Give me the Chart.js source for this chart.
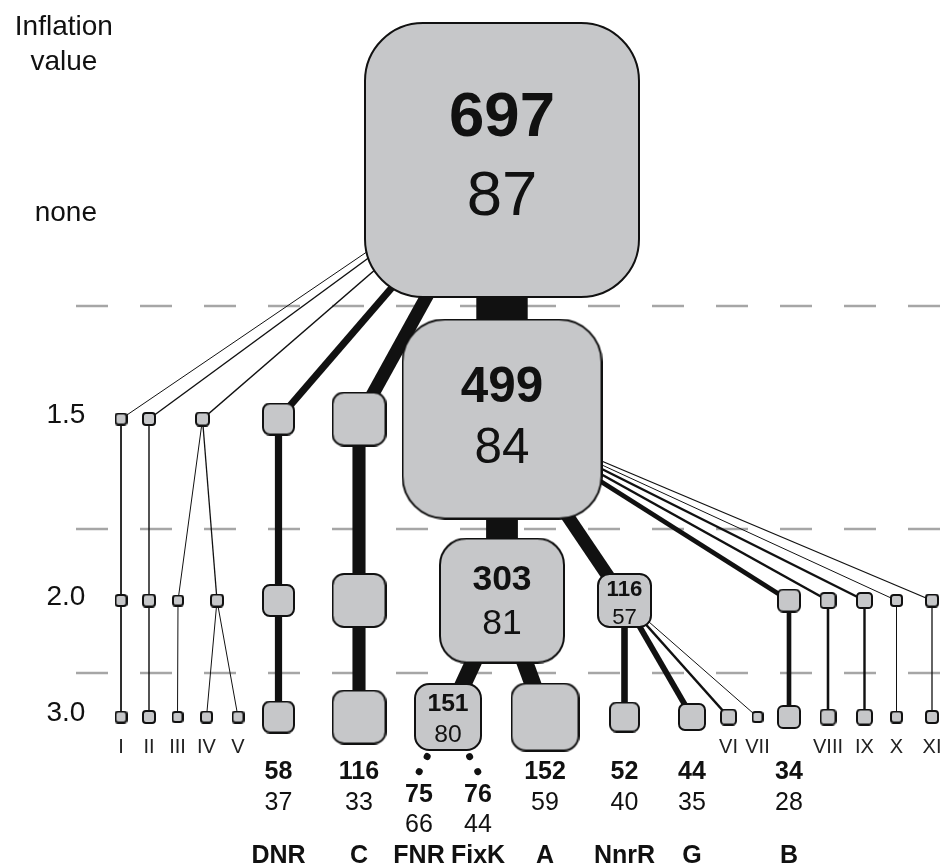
<!DOCTYPE html>
<html>
<head>
<meta charset="utf-8">
<script src="https://cdn.jsdelivr.net/npm/chart.js@4.4.1/dist/chart.umd.min.js"></script>
<style>
  html, body { margin: 0; padding: 0; background: #fff; }
  #wrap { position: relative; width: 947px; height: 866px; }
</style>
</head>
<body>
<div id="wrap"><canvas id="tree"></canvas></div>
<script>
// Inflation levels of the clustering (row labels)
const levels = ['none', '1.5', '2.0', '3.0'];

// One entry per cluster and inflation level; level 4 = sub-families under a 3.0 cluster
const clusterKeys = [
  'all',
  'I', 'II', 'III-V', 'DNR', 'C', 'main',
  'I', 'II', 'III', 'IV-V', 'DNR', 'C', 'main-a', 'main-b', 'B', 'VIII', 'IX', 'X', 'XI',
  'I', 'II', 'III', 'IV', 'V', 'DNR', 'C', 'FNR-FixK', 'A', 'NnrR', 'G', 'VI', 'VII', 'B', 'VIII', 'IX', 'X', 'XI',
  'FNR', 'FixK'
];
const clusterLevel = [
  0,
  1, 1, 1, 1, 1, 1,
  2, 2, 2, 2, 2, 2, 2, 2, 2, 2, 2, 2, 2,
  3, 3, 3, 3, 3, 3, 3, 3, 3, 3, 3, 3, 3, 3, 3, 3, 3, 3,
  4, 4
];
const clusterParent = [
  -1,
  0, 0, 0, 0, 0, 0,
  1, 2, 3, 3, 4, 5, 6, 6, 6, 6, 6, 6, 6,
  7, 8, 9, 10, 10, 11, 12, 13, 13, 14, 14, 14, 14, 15, 16, 17, 18, 19,
  27, 27
];
// number of sequences in each cluster
const seqCounts = [
  697,
  5, 9, 10, 58, 116, 499,
  5, 9, 2, 8, 58, 116, 303, 116, 34, 17, 16, 5, 8,
  5, 9, 2, 4, 4, 58, 116, 151, 152, 52, 44, 17, 3, 34, 17, 16, 5, 8,
  75, 76
];
// mean identity (%) where shown
const identities = [
  87,
  null, null, null, null, null, 84,
  null, null, null, null, null, null, 81, 57, null, null, null, null, null,
  null, null, null, null, null, 37, 33, 80, 59, 40, 35, null, null, 28, null, null, null, null,
  66, 44
];
const familyNames = [
  '',
  '', '', '', '', '', '',
  '', '', '', '', '', '', '', '', '', '', '', '', '',
  '', '', '', '', '', 'DNR', 'C', '', 'A', 'NnrR', 'G', '', '', 'B', '', '', '', '',
  'FNR', 'FixK'
];
const groupNumerals = [
  '',
  '', '', '', '', '', '',
  '', '', '', '', '', '', '', '', '', '', '', '', '',
  'I', 'II', 'III', 'IV', 'V', '', '', '', '', '', '', 'VI', 'VII', '', 'VIII', 'IX', 'X', 'XI',
  '', ''
];

// ---- layout (grid of 10px cells; x measured from the plot's left edge) ----
const columnX = [
  39.0,
  0.9, 3.7, 9.05, 16.65, 24.7, 39.0,
  0.9, 3.7, 6.6, 10.5, 16.65, 24.7, 39.0, 51.25, 67.7, 71.6, 75.25, 78.45, 82.0,
  0.9, 3.7, 6.55, 9.45, 12.6, 16.65, 24.7, 33.6, 43.3, 51.25, 58.0, 61.65, 64.55, 67.7, 71.6, 75.25, 78.45, 82.0,
  30.7, 36.6
];
const nodeRow = [16.0, 41.9, 60.05, 71.7, 77.2];
const tickRow = [21.3, 41.5, 59.7, 71.3];
const separatorRow = [30.6, 52.9, 67.3];
const separatorSpan = [-3.6, 83.5];
const rowNumeral = 75.3, rowCount = 77.9, rowIdentity = 81.0;
const rowSubCount = 80.2, rowSubIdentity = 83.2, rowName = 86.3;
const titleRows = [3.5, 7.0];

const FONT = '"Liberation Sans", Arial, Helvetica, sans-serif';
const BOX_FILL = '#c6c7c9';
const INK = '#111';
const DOT_GAP = 17;
const TICK_PAD = 15;

// box edge length (px) grows with the number of sequences
function boxSize(count) { return 11 + 0.38 * count; }
// connector thickness grows with the number of sequences passed down
function edgeWidth(count) { return Math.max(1, 0.1 * count + 1.5 * (1 - Math.exp(-count / 20))); }

function roundedBox(count) {
  const n = Math.round(boxSize(count));
  const cv = document.createElement('canvas');
  cv.width = n; cv.height = n;
  const g = cv.getContext('2d');
  const bw = 2, h = bw / 2, w = n - bw, r = Math.max(2, 0.21 * n);
  g.beginPath();
  g.moveTo(h + r, h);
  g.arcTo(h + w, h, h + w, h + w, r);
  g.arcTo(h + w, h + w, h, h + w, r);
  g.arcTo(h, h + w, h, h, r);
  g.arcTo(h, h, h + w, h, r);
  g.closePath();
  g.fillStyle = BOX_FILL;
  g.fill();
  g.lineWidth = bw;
  g.strokeStyle = INK;
  g.stroke();
  return cv;
}

const boxNodes = clusterKeys.map((_, i) => i).filter(i => clusterLevel[i] <= 3);
const boxImages = boxNodes.map(i => roundedBox(seqCounts[i]));
const hasChildren = clusterKeys.map((_, i) => clusterParent.includes(i));

const pos = i => ({ x: columnX[i], y: nodeRow[clusterLevel[i]] });

const datasets = [];

// clusters
datasets.push({
  type: 'scatter',
  data: boxNodes.map(pos),
  pointStyle: c => boxImages[c.dataIndex],
  pointRadius: c => boxSize(seqCounts[boxNodes[c.dataIndex]]) / 2,
  order: 1,
  clip: false
});

// parent -> child connectors
clusterKeys.forEach((_, i) => {
  const p = clusterParent[i];
  if (p < 0) return;
  const a = pos(p), b = pos(i);
  if (clusterLevel[i] === 4) {
    datasets.push({
      type: 'line',
      data: [a, b],
      borderColor: INK,
      borderWidth: 7,
      borderCapStyle: 'round',
      borderDash: [0.01, DOT_GAP - 0.01],
      borderDashOffset: c => {
        const xs = c.chart.scales.x, ys = c.chart.scales.y;
        const L = Math.hypot(xs.getPixelForValue(b.x) - xs.getPixelForValue(a.x),
                             ys.getPixelForValue(b.y) - ys.getPixelForValue(a.y));
        return DOT_GAP - ((L - 0.5) % DOT_GAP);
      },
      pointRadius: 0,
      fill: false,
      tension: 0,
      order: 2,
      clip: false
    });
  } else {
    datasets.push({
      type: 'line',
      data: [a, b],
      borderColor: INK,
      borderWidth: edgeWidth(seqCounts[i]),
      borderCapStyle: 'butt',
      pointRadius: 0,
      fill: false,
      tension: 0,
      order: 2,
      clip: false
    });
  }
});

// dashed level separators
separatorRow.forEach(r => {
  datasets.push({
    type: 'line',
    data: [{ x: separatorSpan[0], y: r }, { x: separatorSpan[1], y: r }],
    borderColor: '#a6a6a6',
    borderWidth: 2.5,
    borderDash: [32, 32],
    pointRadius: 0,
    fill: false,
    order: 3,
    clip: false
  });
});

const labelPlugin = {
  id: 'clusterLabels',
  afterDatasetsDraw(chart) {
    const { ctx, scales: { x, y } } = chart;
    ctx.save();
    ctx.fillStyle = INK;
    ctx.textAlign = 'center';
    ctx.textBaseline = 'alphabetic';

    // axis caption above the level labels, centred on them
    ctx.font = '28px ' + FONT;
    const capX = y.right - TICK_PAD - ctx.measureText(levels[0]).width / 2 - 2;
    ctx.fillText('Inflation', capX, y.getPixelForValue(titleRows[0]));
    ctx.fillText('value', capX, y.getPixelForValue(titleRows[1]));

    clusterKeys.forEach((_, i) => {
      const lv = clusterLevel[i];
      const cx = x.getPixelForValue(columnX[i]);
      const n = seqCounts[i], id = identities[i];
      if (lv <= 3 && hasChildren[i] && id !== null) {
        // figures inside the box
        const cy = y.getPixelForValue(nodeRow[lv]);
        const s = boxSize(n);
        const f = 14 + 0.071 * n;
        const off = 3.5 - 0.04 * s;
        ctx.font = 'bold ' + f.toFixed(1) + 'px ' + FONT;
        ctx.fillText(String(n), cx, cy + off - 0.62 * f + 0.358 * f);
        ctx.font = f.toFixed(1) + 'px ' + FONT;
        ctx.fillText(String(id), cx, cy + off + 0.62 * f + 0.358 * f);
        return;
      }
      if (lv === 3 && groupNumerals[i]) {
        ctx.fillStyle = '#222';
        ctx.font = '20px ' + FONT;
        ctx.fillText(groupNumerals[i], cx, y.getPixelForValue(rowNumeral));
        ctx.fillStyle = INK;
      }
      if (id !== null && (lv === 3 || lv === 4)) {
        const sub = lv === 4;
        ctx.font = 'bold 25px ' + FONT;
        ctx.fillText(String(n), cx, y.getPixelForValue(sub ? rowSubCount : rowCount));
        ctx.font = '25px ' + FONT;
        ctx.fillText(String(id), cx, y.getPixelForValue(sub ? rowSubIdentity : rowIdentity));
      }
      if (familyNames[i]) {
        ctx.font = 'bold 25px ' + FONT;
        ctx.fillText(familyNames[i], cx, y.getPixelForValue(rowName));
      }
    });
    ctx.restore();
  }
};

new Chart(document.getElementById('tree'), {
  type: 'scatter',
  data: { datasets },
  options: {
    responsive: true,
    maintainAspectRatio: false,
    animation: false,
    events: [],
    layout: { padding: 0, autoPadding: false },
    plugins: {
      legend: { display: false },
      tooltip: { enabled: false },
      title: { display: false }
    },
    scales: {
      x: { type: 'linear', display: false, min: 0, max: 83.5 },
      y: {
        type: 'linear',
        position: 'left',
        reverse: true,
        min: 0,
        max: 86.6,
        grid: { display: false, drawTicks: false },
        border: { display: false },
        afterBuildTicks: s => { s.ticks = tickRow.map(v => ({ value: v })); },
        afterFit: s => { s.width = 112; s.paddingTop = 0; s.paddingBottom = 0; },
        ticks: {
          autoSkip: false,
          padding: TICK_PAD,
          crossAlign: 'center',
          color: INK,
          font: { family: FONT, size: 28 },
          callback: (v, i) => levels[i]
        }
      }
    }
  },
  plugins: [labelPlugin]
});
</script>
</body>
</html>
